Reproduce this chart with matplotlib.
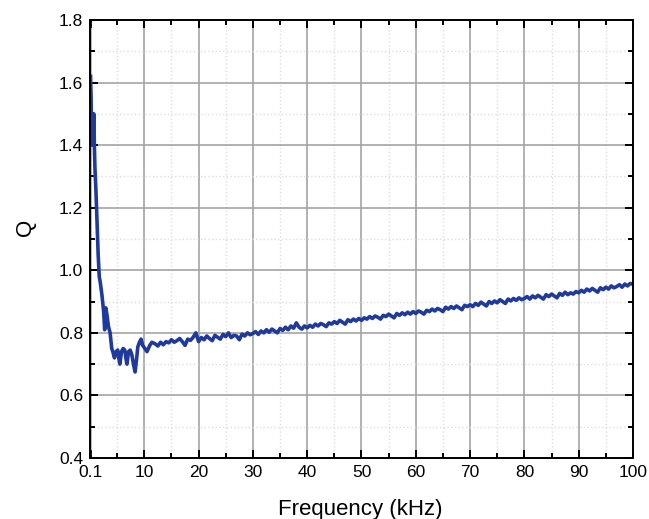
import numpy as np
import matplotlib.pyplot as plt
from matplotlib.ticker import MultipleLocator

plt.rcParams['font.family'] = ['Liberation Sans', 'DejaVu Sans']

# low-frequency part (kHz, Q)
f_low = [0.1, 0.2, 0.3, 0.4, 0.5, 0.6, 0.7, 0.8, 0.9, 1.1, 1.3, 1.5, 1.7, 1.9,
         2.2, 2.5, 2.7, 2.9, 3.1, 3.4, 3.7, 4.0, 4.2, 4.5, 4.8, 5.1, 5.3, 5.5,
         5.8, 6.1, 6.4, 6.6, 6.8, 7.1, 7.4, 7.7, 8.0, 8.3, 8.6, 8.8, 9.1, 9.4,
         9.7, 10.1, 10.5, 11.0, 11.4]
q_low = [1.62, 1.55, 1.40, 1.50, 1.48, 1.42, 1.50, 1.40, 1.33, 1.25, 1.15, 1.05,
         0.98, 0.96, 0.92, 0.87, 0.81, 0.88, 0.86, 0.82, 0.80, 0.75, 0.74, 0.72,
         0.74, 0.745, 0.72, 0.70, 0.74, 0.75, 0.745, 0.72, 0.70, 0.74, 0.745,
         0.73, 0.70, 0.675, 0.72, 0.755, 0.77, 0.78, 0.76, 0.75, 0.74, 0.76, 0.77]

# 12 .. 100 kHz in 0.5 kHz steps
f_high = np.arange(12, 100.01, 0.5)
q_high = [
    0.765, 0.758, 0.770, 0.762, 0.772, 0.768, 0.778, 0.770, 0.775, 0.782,
    0.772, 0.760, 0.780, 0.776, 0.786, 0.800,
    0.772, 0.785, 0.778, 0.790, 0.782, 0.775, 0.792, 0.786, 0.780, 0.795,
    0.788, 0.800, 0.785, 0.792, 0.790, 0.778, 0.796, 0.790, 0.800, 0.794,
    0.798, 0.804, 0.795, 0.806, 0.800, 0.810, 0.802, 0.812, 0.806, 0.800,
    0.814, 0.808, 0.818, 0.810, 0.822, 0.815, 0.832, 0.818, 0.812, 0.822,
    0.816, 0.824, 0.818, 0.828, 0.822, 0.830, 0.826, 0.820, 0.832, 0.828,
    0.836, 0.830, 0.840, 0.834, 0.828, 0.842, 0.836, 0.844, 0.838, 0.846,
    0.840, 0.848, 0.844, 0.852, 0.846, 0.854, 0.850, 0.844, 0.856, 0.852,
    0.860, 0.854, 0.848, 0.862, 0.856, 0.864, 0.858, 0.866, 0.860, 0.868,
    0.862, 0.870, 0.866, 0.860, 0.872, 0.868, 0.876, 0.870, 0.878, 0.874,
    0.868, 0.882, 0.876, 0.884, 0.878, 0.886, 0.880, 0.874, 0.888, 0.884,
    0.890, 0.884, 0.894, 0.888, 0.898, 0.892, 0.886, 0.900, 0.894, 0.902,
    0.896, 0.906, 0.900, 0.894, 0.908, 0.902, 0.910, 0.904, 0.912, 0.906,
    0.910, 0.916, 0.908, 0.918, 0.912, 0.920, 0.914, 0.908, 0.922, 0.916,
    0.924, 0.918, 0.912, 0.926, 0.920, 0.930, 0.922, 0.928, 0.924, 0.932,
    0.928, 0.936, 0.930, 0.940, 0.934, 0.942, 0.936, 0.930, 0.944, 0.938,
    0.946, 0.940, 0.950, 0.944, 0.948, 0.954, 0.946, 0.956, 0.950, 0.958,
    0.955]

freq = np.concatenate([f_low, f_high])
q = np.concatenate([q_low, q_high])

xticks = [0.1, 10, 20, 30, 40, 50, 60, 70, 80, 90, 100]
xticklabels = ['0.1', '10', '20', '30', '40', '50', '60', '70', '80', '90', '100']

fig = plt.figure(figsize=(6.49, 5.19), dpi=100)
ax = fig.add_axes([0.1387, 0.1175, 0.8366, 0.844])

ax.plot(freq, q, color='#1f3a9c', lw=2.6, solid_joinstyle='round')

ax.set_xlim(0, 100)
ax.set_ylim(0.4, 1.8)
ax.set_xticks(xticks)
ax.set_xticklabels(xticklabels)
ax.xaxis.set_minor_locator(MultipleLocator(5))
ax.yaxis.set_major_locator(MultipleLocator(0.2))
ax.yaxis.set_minor_locator(MultipleLocator(0.1))
ax.yaxis.set_major_formatter(plt.FormatStrFormatter('%.1f'))

ax.grid(which='major', color='#a4a4a4', lw=1.2, ls='-')
ax.grid(which='minor', color='#dedede', lw=1.0, ls=':')
ax.set_axisbelow(True)

ax.tick_params(which='both', direction='in', top=True, right=True,
               labelsize=12.5, width=1.4, pad=5)
ax.tick_params(which='major', length=6)
ax.tick_params(which='minor', length=3.5)
for s in ax.spines.values():
    s.set_linewidth(1.4)

ax.set_xlabel('Frequency (kHz)', fontsize=16)
ax.set_ylabel('Q', fontsize=16)
ax.xaxis.set_label_coords(0.497, -0.093)
ax.yaxis.set_label_coords(-0.10, 0.527)

plt.savefig('out.png', dpi=100)
